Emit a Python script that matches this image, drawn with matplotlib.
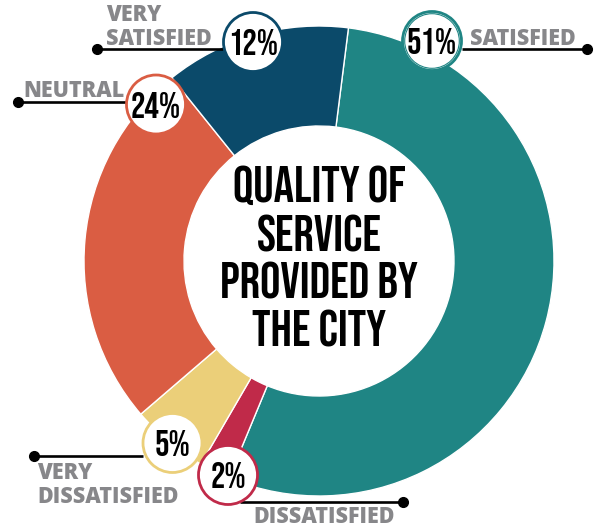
import matplotlib
matplotlib.use("Agg")
import matplotlib.pyplot as plt
from matplotlib.patches import Circle

# ---- data ----
categories = ["SATISFIED", "DISSATISFIED", "VERY\nDISSATISFIED", "NEUTRAL", "VERY\nSATISFIED"]
values = [51, 2, 5, 24, 12]
pct_labels = ["51%", "2%", "5%", "24%", "12%"]
colors = ["#1F8584", "#C02A49", "#EBCF79", "#DA5D43", "#0B4A6A"]
title = "QUALITY OF\nSERVICE\nPROVIDED BY\nTHE CITY"

# ---- layout (image pixel coordinates, y measured from top) ----
W, H = 600, 529
CX, CY = 319, 261
R_OUT, R_IN = 235, 135
START = 82.8

circ_pos = [(432, 41), (228, 475), (172.5, 443), (156, 104.5), (253, 42)]
lines = [(49, 462, 587), (502, 240, 403), (456, 143, 34), (102, 127, 18), (49, 223, 97)]
text_pos = [(470, 45), (253, 523), (37, 503), (23, 97), (106, 45)]

def fy(y):
    return H - y

fig = plt.figure(figsize=(6.0, 5.29), dpi=100)
ax = fig.add_axes([0, 0, 1, 1])
ax.pie(values, colors=colors, startangle=START, counterclock=False,
       radius=R_OUT, center=(CX, fy(CY)),
       wedgeprops=dict(width=R_OUT - R_IN, edgecolor="white", linewidth=1.0))
ax.set_xlim(0, W)
ax.set_ylim(0, H)
ax.set_aspect("equal")
ax.axis("off")

cond = ["Bebas Neue", "DejaVu Sans"]
label_font = ["Open Sans", "DejaVu Sans"]

ax.text(CX, fy(256), title, ha="center", va="center", fontsize=36.5,
        family=cond, color="black", linespacing=1.28, zorder=6)

for i in range(len(values)):
    ly, x0, x1 = lines[i]
    ax.plot([x0, x1], [fy(ly), fy(ly)], color="black", lw=1.9,
            solid_capstyle="butt", zorder=3)
    ax.plot([x1], [fy(ly)], "o", color="black", ms=7, zorder=3)
    cx, cy = circ_pos[i]
    ax.add_patch(Circle((cx, fy(cy)), 29.5, facecolor="white",
                        edgecolor=colors[i], lw=2.0, zorder=4))
    if i == 0:
        ax.add_patch(Circle((cx, fy(cy)), 27.3, facecolor="none",
                            edgecolor=colors[i], lw=0.8, zorder=4))
    ax.text(cx, fy(cy), pct_labels[i], ha="center", va="center_baseline",
            fontsize=26, family=cond, color="black", zorder=5)
    tx, ty = text_pos[i]
    ax.text(tx, fy(ty), categories[i], ha="left", va="baseline", fontsize=15.5,
            fontweight=800, family=label_font, color="#87878A",
            linespacing=1.0, zorder=5)

fig.savefig("out.png", dpi=100)
